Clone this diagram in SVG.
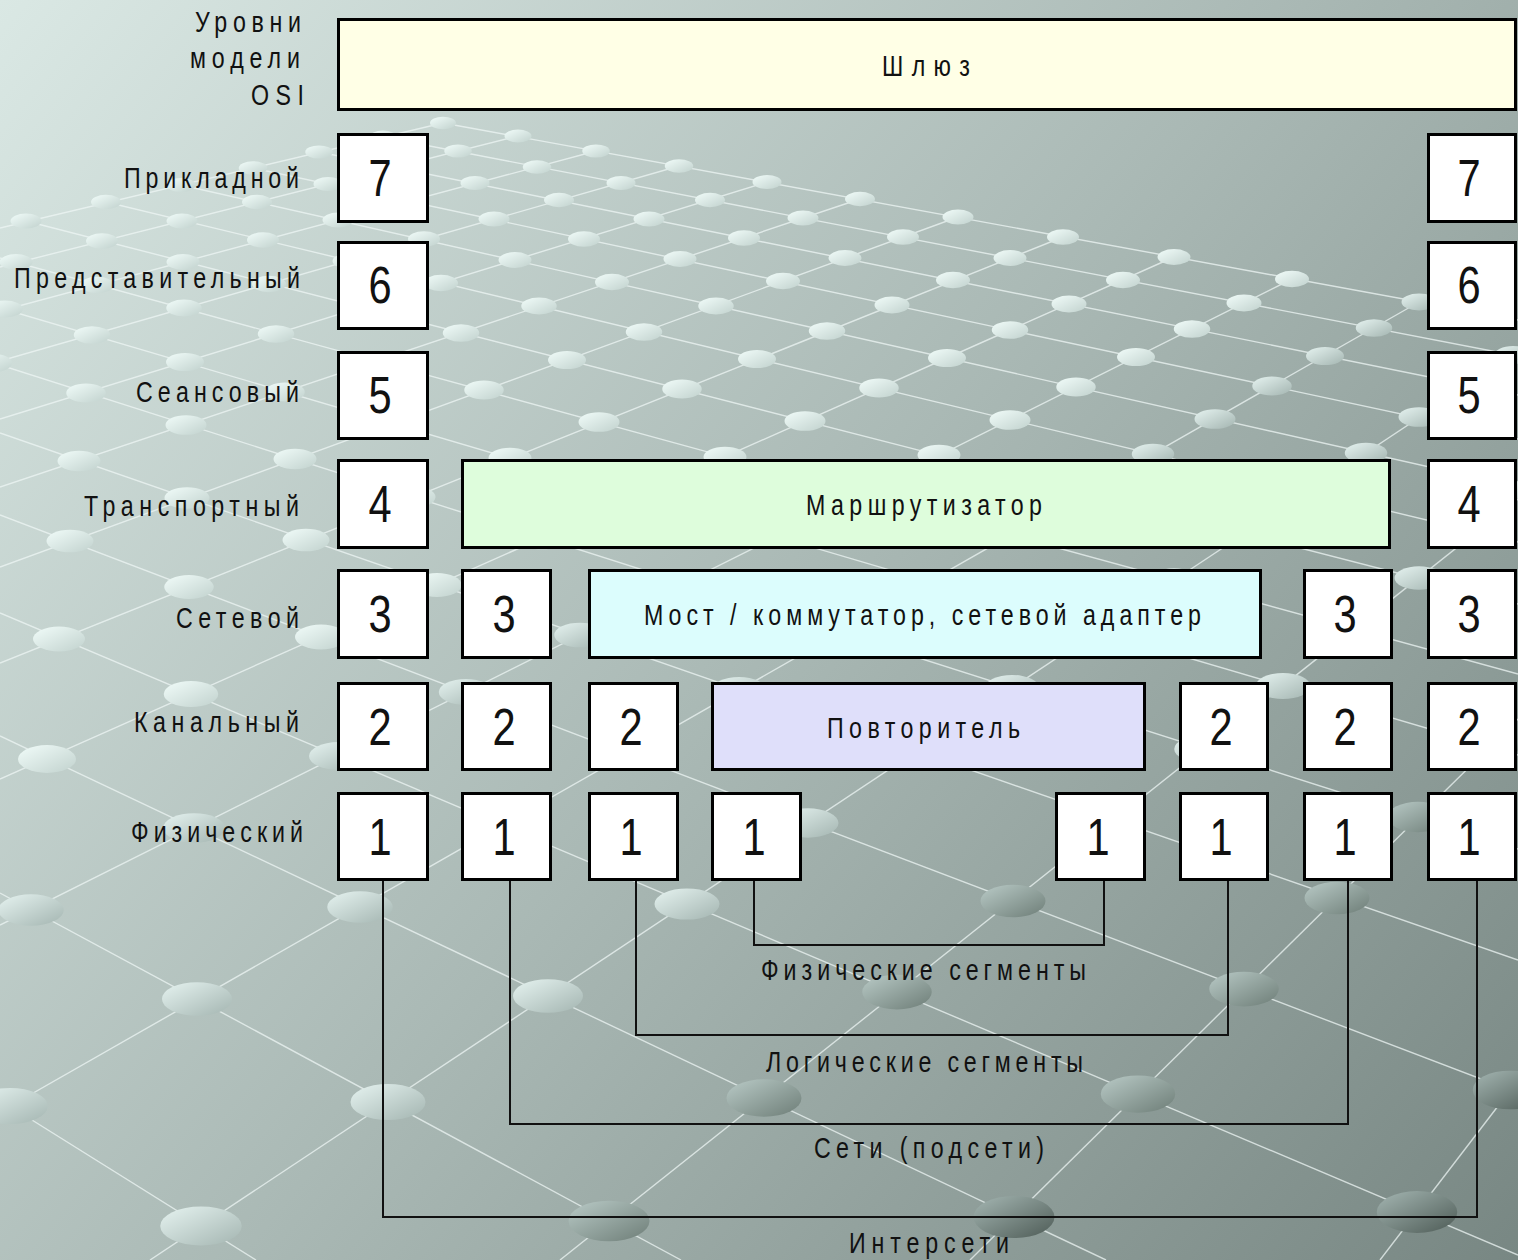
<svg xmlns="http://www.w3.org/2000/svg" width="1518" height="1260" viewBox="0 0 1518 1260">
  <defs>
    <linearGradient id="bg" gradientUnits="userSpaceOnUse" x1="0" y1="0" x2="1518" y2="1260">
      <stop offset="0" stop-color="#DAE8E4"/>
      <stop offset="0.5" stop-color="#AAB9B5"/>
      <stop offset="1" stop-color="#788783"/>
    </linearGradient>
    <linearGradient id="g1" x1="0.15" y1="0.15" x2="0.9" y2="0.9">
      <stop offset="0" stop-color="#EAF6F3"/>
      <stop offset="1" stop-color="#C6D6D2"/>
    </linearGradient>
    <linearGradient id="g2" x1="0.15" y1="0.15" x2="0.9" y2="0.9">
      <stop offset="0" stop-color="#DCEAE7"/>
      <stop offset="1" stop-color="#AABBB7"/>
    </linearGradient>
    <linearGradient id="g3" x1="0.15" y1="0.15" x2="0.9" y2="0.9">
      <stop offset="0" stop-color="#AEBFBB"/>
      <stop offset="1" stop-color="#75857F"/>
    </linearGradient>
    <linearGradient id="g4" x1="0.15" y1="0.15" x2="0.9" y2="0.9">
      <stop offset="0" stop-color="#98A9A5"/>
      <stop offset="1" stop-color="#56645F"/>
    </linearGradient>
    <ellipse id="e1" rx="25" ry="12" fill="url(#g1)"/>
    <ellipse id="e2" rx="25" ry="12" fill="url(#g2)"/>
    <ellipse id="e3" rx="25" ry="12.5" fill="url(#g3)"/>
    <ellipse id="e4" rx="25" ry="13" fill="url(#g4)"/>
  </defs>
  <style>
    .grid line { stroke: #EEF6F4; stroke-width: 1.4; stroke-opacity: 0.75; }
    .box { stroke: #000; stroke-width: 3; }
    .cell { fill: #FFFFFF; }
    .t { font-family: "Liberation Sans", Arial, sans-serif; font-size: 29px; fill: #111; }
    .d { font-family: "Liberation Sans", Arial, sans-serif; font-size: 52px; fill: #111; text-anchor: middle; }
    .wire { fill: none; stroke: #111; stroke-width: 2; }
  </style>

  <!-- backdrop: perspective grid of rods and beads -->
  <rect width="1518" height="1260" fill="url(#bg)"/>
  <g class="grid">
    <line x1="443" y1="123" x2="0" y2="228"/>
    <line x1="518" y1="136" x2="0" y2="267"/>
    <line x1="596" y1="151" x2="0" y2="311"/>
    <line x1="679" y1="166" x2="0" y2="361"/>
    <line x1="767" y1="182" x2="0" y2="419"/>
    <line x1="860" y1="199" x2="0" y2="487"/>
    <line x1="958" y1="217" x2="0" y2="567"/>
    <line x1="1063" y1="237" x2="0" y2="663"/>
    <line x1="1174" y1="257" x2="0" y2="779"/>
    <line x1="1292" y1="279" x2="0" y2="925"/>
    <line x1="1419" y1="302" x2="0" y2="1112"/>
    <line x1="1518" y1="352" x2="150" y2="1260"/>
    <line x1="1518" y1="499" x2="560" y2="1260"/>
    <line x1="1518" y1="719" x2="970" y2="1260"/>
    <line x1="1518" y1="1080" x2="1380" y2="1260"/>
    <line x1="443" y1="123" x2="1518" y2="320"/>
    <line x1="383" y1="137" x2="1518" y2="356"/>
    <line x1="319" y1="152" x2="1518" y2="395"/>
    <line x1="253" y1="168" x2="1518" y2="439"/>
    <line x1="181" y1="185" x2="1518" y2="487"/>
    <line x1="106" y1="202" x2="1518" y2="542"/>
    <line x1="26" y1="221" x2="1518" y2="604"/>
    <line x1="0" y1="258" x2="1518" y2="674"/>
    <line x1="0" y1="308" x2="1518" y2="755"/>
    <line x1="0" y1="365" x2="1518" y2="849"/>
    <line x1="0" y1="433" x2="1518" y2="960"/>
    <line x1="0" y1="515" x2="1518" y2="1093"/>
    <line x1="0" y1="613" x2="1518" y2="1255"/>
    <line x1="0" y1="736" x2="1106" y2="1260"/>
    <line x1="0" y1="893" x2="681" y2="1260"/>
    <line x1="0" y1="1100" x2="256" y2="1260"/>
  </g>
  <g class="beads">
    <use href="#e1" transform="translate(443 123) scale(.52)"/>
    <use href="#e1" transform="translate(518 136) scale(.54)"/>
    <use href="#e1" transform="translate(596 151) scale(.55)"/>
    <use href="#e1" transform="translate(679 166) scale(.57)"/>
    <use href="#e1" transform="translate(767 182) scale(.58)"/>
    <use href="#e1" transform="translate(860 199) scale(.60)"/>
    <use href="#e1" transform="translate(958 217) scale(.62)"/>
    <use href="#e1" transform="translate(1063 237) scale(.64)"/>
    <use href="#e1" transform="translate(1174 257) scale(.66)"/>
    <use href="#e1" transform="translate(1292 279) scale(.68)"/>
    <use href="#e2" transform="translate(1419 302) scale(.70)"/>

    <use href="#e1" transform="translate(383 137) scale(.54)"/>
    <use href="#e1" transform="translate(458 151) scale(.55)"/>
    <use href="#e1" transform="translate(537 167) scale(.57)"/>
    <use href="#e1" transform="translate(621 183) scale(.58)"/>
    <use href="#e1" transform="translate(710 200) scale(.60)"/>
    <use href="#e1" transform="translate(803 218) scale(.62)"/>
    <use href="#e1" transform="translate(903 237) scale(.64)"/>
    <use href="#e1" transform="translate(1010 258) scale(.66)"/>
    <use href="#e1" transform="translate(1123 280) scale(.68)"/>
    <use href="#e1" transform="translate(1244 303) scale(.70)"/>
    <use href="#e2" transform="translate(1374 328) scale(.73)"/>
    <use href="#e2" transform="translate(1513 355) scale(.75)"/>

    <use href="#e1" transform="translate(319 152) scale(.55)"/>
    <use href="#e1" transform="translate(395 167) scale(.57)"/>
    <use href="#e1" transform="translate(475 183) scale(.58)"/>
    <use href="#e1" transform="translate(559 200) scale(.60)"/>
    <use href="#e1" transform="translate(649 219) scale(.62)"/>
    <use href="#e1" transform="translate(744 238) scale(.64)"/>
    <use href="#e1" transform="translate(845 258) scale(.66)"/>
    <use href="#e1" transform="translate(953 280) scale(.68)"/>
    <use href="#e1" transform="translate(1069 304) scale(.70)"/>
    <use href="#e1" transform="translate(1192 329) scale(.73)"/>
    <use href="#e2" transform="translate(1325 356) scale(.76)"/>
    <use href="#e2" transform="translate(1468 385) scale(.78)"/>

    <use href="#e1" transform="translate(253 168) scale(.57)"/>
    <use href="#e1" transform="translate(328 184) scale(.58)"/>
    <use href="#e1" transform="translate(409 201) scale(.60)"/>
    <use href="#e1" transform="translate(494 219) scale(.62)"/>
    <use href="#e1" transform="translate(584 239) scale(.64)"/>
    <use href="#e1" transform="translate(680 259) scale(.66)"/>
    <use href="#e1" transform="translate(783 281) scale(.68)"/>
    <use href="#e1" transform="translate(892 305) scale(.70)"/>
    <use href="#e1" transform="translate(1010 330) scale(.73)"/>
    <use href="#e1" transform="translate(1136 357) scale(.76)"/>
    <use href="#e2" transform="translate(1272 386) scale(.79)"/>
    <use href="#e2" transform="translate(1419 417) scale(.82)"/>

    <use href="#e1" transform="translate(181 185) scale(.58)"/>
    <use href="#e1" transform="translate(257 202) scale(.60)"/>
    <use href="#e1" transform="translate(338 220) scale(.62)"/>
    <use href="#e1" transform="translate(424 239) scale(.64)"/>
    <use href="#e1" transform="translate(515 260) scale(.66)"/>
    <use href="#e1" transform="translate(612 282) scale(.68)"/>
    <use href="#e1" transform="translate(716 306) scale(.71)"/>
    <use href="#e1" transform="translate(827 331) scale(.73)"/>
    <use href="#e1" transform="translate(947 358) scale(.76)"/>
    <use href="#e1" transform="translate(1076 387) scale(.79)"/>
    <use href="#e2" transform="translate(1215 419) scale(.82)"/>
    <use href="#e2" transform="translate(1366 453) scale(.85)"/>
    <use href="#e2" transform="translate(1530 490) scale(.89)"/>

    <use href="#e1" transform="translate(106 202) scale(.60)"/>
    <use href="#e1" transform="translate(182 221) scale(.62)"/>
    <use href="#e1" transform="translate(263 240) scale(.64)"/>
    <use href="#e1" transform="translate(349 261) scale(.66)"/>
    <use href="#e1" transform="translate(441 283) scale(.68)"/>
    <use href="#e1" transform="translate(539 306) scale(.71)"/>
    <use href="#e1" transform="translate(644 332) scale(.73)"/>
    <use href="#e1" transform="translate(757 359) scale(.76)"/>
    <use href="#e1" transform="translate(879 388) scale(.79)"/>
    <use href="#e1" transform="translate(1010 420) scale(.82)"/>
    <use href="#e2" transform="translate(1153 454) scale(.85)"/>
    <use href="#e2" transform="translate(1308 491) scale(.89)"/>
    <use href="#e2" transform="translate(1477 532) scale(.93)"/>

    <use href="#e1" transform="translate(26 221) scale(.62)"/>
    <use href="#e1" transform="translate(102 241) scale(.64)"/>
    <use href="#e1" transform="translate(183 262) scale(.66)"/>
    <use href="#e1" transform="translate(269 284) scale(.68)"/>
    <use href="#e1" transform="translate(362 307) scale(.71)"/>
    <use href="#e1" transform="translate(461 333) scale(.73)"/>
    <use href="#e1" transform="translate(567 360) scale(.76)"/>
    <use href="#e1" transform="translate(682 389) scale(.79)"/>
    <use href="#e1" transform="translate(805 421) scale(.82)"/>
    <use href="#e1" transform="translate(939 455) scale(.86)"/>
    <use href="#e2" transform="translate(1085 493) scale(.89)"/>
    <use href="#e2" transform="translate(1244 533) scale(.93)"/>
    <use href="#e2" transform="translate(1419 578) scale(.98)"/>

    <use href="#e1" transform="translate(16 262) scale(.66)"/>
    <use href="#e1" transform="translate(97 285) scale(.68)"/>
    <use href="#e1" transform="translate(184 308) scale(.71)"/>
    <use href="#e1" transform="translate(276 334) scale(.73)"/>
    <use href="#e1" transform="translate(376 361) scale(.76)"/>
    <use href="#e1" transform="translate(484 390) scale(.79)"/>
    <use href="#e1" transform="translate(599 422) scale(.82)"/>
    <use href="#e1" transform="translate(725 457) scale(.86)"/>
    <use href="#e1" transform="translate(862 494) scale(.89)"/>
    <use href="#e2" transform="translate(1011 535) scale(.94)"/>
    <use href="#e2" transform="translate(1174 580) scale(.98)"/>
    <use href="#e2" transform="translate(1354 629) scale(1.03)"/>

    <use href="#e1" transform="translate(5 309) scale(.71)"/>
    <use href="#e1" transform="translate(92 335) scale(.73)"/>
    <use href="#e1" transform="translate(185 362) scale(.76)"/>
    <use href="#e1" transform="translate(285 392) scale(.79)"/>
    <use href="#e1" transform="translate(393 423) scale(.82)"/>
    <use href="#e1" transform="translate(510 458) scale(.86)"/>
    <use href="#e1" transform="translate(638 496) scale(.90)"/>
    <use href="#e2" transform="translate(777 537) scale(.94)"/>
    <use href="#e2" transform="translate(929 582) scale(.98)"/>
    <use href="#e2" transform="translate(1097 631) scale(1.03)"/>
    <use href="#e2" transform="translate(1283 686) scale(1.09)"/>
    <use href="#e3" transform="translate(1490 747) scale(1.15)"/>

    <use href="#e1" transform="translate(-7 363) scale(.76)"/>
    <use href="#e1" transform="translate(86 393) scale(.79)"/>
    <use href="#e1" transform="translate(186 425) scale(.82)"/>
    <use href="#e1" transform="translate(295 459) scale(.86)"/>
    <use href="#e1" transform="translate(413 497) scale(.90)"/>
    <use href="#e1" transform="translate(542 538) scale(.94)"/>
    <use href="#e2" transform="translate(683 583) scale(.98)"/>
    <use href="#e2" transform="translate(839 633) scale(1.03)"/>
    <use href="#e2" transform="translate(1012 688) scale(1.09)"/>
    <use href="#e2" transform="translate(1203 749) scale(1.15)"/>
    <use href="#e3" transform="translate(1418 817) scale(1.22)"/>

    <use href="#e1" transform="translate(-21 426) scale(.83)"/>
    <use href="#e1" transform="translate(79 461) scale(.86)"/>
    <use href="#e1" transform="translate(187 498) scale(.90)"/>
    <use href="#e1" transform="translate(306 540) scale(.94)"/>
    <use href="#e1" transform="translate(437 585) scale(.99)"/>
    <use href="#e2" transform="translate(580 635) scale(1.03)"/>
    <use href="#e2" transform="translate(739 690) scale(1.09)"/>
    <use href="#e2" transform="translate(916 751) scale(1.15)"/>
    <use href="#e3" transform="translate(1114 820) scale(1.22)"/>
    <use href="#e3" transform="translate(1337 898) scale(1.30)"/>

    <use href="#e1" transform="translate(-39 500) scale(.90)"/>
    <use href="#e1" transform="translate(70 541) scale(.94)"/>
    <use href="#e1" transform="translate(189 587) scale(.99)"/>
    <use href="#e1" transform="translate(321 637) scale(1.04)"/>
    <use href="#e2" transform="translate(466 692) scale(1.09)"/>
    <use href="#e2" transform="translate(627 754) scale(1.15)"/>
    <use href="#e2" transform="translate(808 823) scale(1.22)"/>
    <use href="#e3" transform="translate(1013 901) scale(1.30)"/>
    <use href="#e3" transform="translate(1244 989) scale(1.39)"/>
    <use href="#e4" transform="translate(1510 1090) scale(1.49)"/>

    <use href="#e1" transform="translate(59 639) scale(1.04)"/>
    <use href="#e1" transform="translate(191 694) scale(1.09)"/>
    <use href="#e2" transform="translate(338 756) scale(1.16)"/>
    <use href="#e2" transform="translate(502 825) scale(1.23)"/>
    <use href="#e2" transform="translate(687 904) scale(1.30)"/>
    <use href="#e3" transform="translate(897 992) scale(1.39)"/>
    <use href="#e3" transform="translate(1138 1094) scale(1.49)"/>
    <use href="#e4" transform="translate(1417 1212) scale(1.61)"/>

    <use href="#e1" transform="translate(47 759) scale(1.16)"/>
    <use href="#e2" transform="translate(194 828) scale(1.23)"/>
    <use href="#e2" transform="translate(360 907) scale(1.31)"/>
    <use href="#e2" transform="translate(548 996) scale(1.40)"/>
    <use href="#e3" transform="translate(764 1098) scale(1.50)"/>
    <use href="#e4" transform="translate(1014 1217) scale(1.62)"/>

    <use href="#e2" transform="translate(31 910) scale(1.31)"/>
    <use href="#e2" transform="translate(197 999) scale(1.40)"/>
    <use href="#e2" transform="translate(388 1102) scale(1.50)"/>
    <use href="#e3" transform="translate(609 1221) scale(1.62)"/>

    <use href="#e2" transform="translate(10 1106) scale(1.51)"/>
    <use href="#e2" transform="translate(201 1226) scale(1.63)"/>
  </g>

  <!-- layer names on the left (condensed lettering: x is divided by the 0.8 squeeze) -->
  <g id="layer-names" class="t" transform="scale(0.8 1)">
    <text x="243.75" y="32" textLength="132.5" lengthAdjust="spacing">Уровни</text>
    <text x="237.5" y="68" textLength="137.5" lengthAdjust="spacing">модели</text>
    <text x="313.75" y="105" textLength="66.25" lengthAdjust="spacing">OSI</text>
    <text x="155" y="188" textLength="218.75" lengthAdjust="spacing">Прикладной</text>
    <text x="17.5" y="288" textLength="357.5" lengthAdjust="spacing">Представительный</text>
    <text x="170" y="402" textLength="203.75" lengthAdjust="spacing">Сеансовый</text>
    <text x="105" y="516" textLength="268.75" lengthAdjust="spacing">Транспортный</text>
    <text x="220" y="628" textLength="153.75" lengthAdjust="spacing">Сетевой</text>
    <text x="167.5" y="732" textLength="206.25" lengthAdjust="spacing">Канальный</text>
    <text x="163.75" y="842" textLength="215" lengthAdjust="spacing">Физический</text>
  </g>

  <!-- connectors between physical ports -->
  <g id="connectors" class="wire">
    <path d="M754 881 V945 H1104 V881"/>
    <path d="M636 881 V1035 H1228 V881"/>
    <path d="M510 881 V1124 H1348 V881"/>
    <path d="M383 881 V1217 H1477 V881"/>
  </g>

  <!-- devices spanning several layers -->
  <g id="gateway">
    <rect class="box" x="338.5" y="19.5" width="1177" height="90" fill="#FFFFE6"/>
    <text class="t" transform="scale(0.8 1)" x="1102.5" y="76" textLength="110" lengthAdjust="spacing">Шлюз</text>
  </g>
  <g id="router">
    <rect class="box" x="462.5" y="460.5" width="927" height="87" fill="#DEFDDC"/>
    <text class="t" transform="scale(0.8 1)" x="1007.5" y="515" textLength="295" lengthAdjust="spacing">Маршрутизатор</text>
  </g>
  <g id="bridge">
    <rect class="box" x="589.5" y="570.5" width="671" height="87" fill="#DCFDFD"/>
    <text class="t" transform="scale(0.8 1)" x="805" y="625" textLength="696.25" lengthAdjust="spacing">Мост / коммутатор, сетевой адаптер</text>
  </g>
  <g id="repeater">
    <rect class="box" x="712.5" y="683.5" width="432" height="86" fill="#DFDFFA"/>
    <text class="t" transform="scale(0.8 1)" x="1033.75" y="738" textLength="241.25" lengthAdjust="spacing">Повторитель</text>
  </g>

  <!-- end-node stack, left -->
  <g id="host-a">
    <rect class="box cell" x="338.5" y="134.5" width="89" height="87"/>
    <rect class="box cell" x="338.5" y="242.5" width="89" height="86"/>
    <rect class="box cell" x="338.5" y="352.5" width="89" height="86"/>
    <rect class="box cell" x="338.5" y="460.5" width="89" height="87"/>
    <rect class="box cell" x="338.5" y="570.5" width="89" height="87"/>
    <rect class="box cell" x="338.5" y="683.5" width="89" height="86"/>
    <rect class="box cell" x="338.5" y="793.5" width="89" height="86"/>
    <g class="d" transform="scale(0.8 1)">
      <text x="475" y="196">7</text>
      <text x="475" y="303">6</text>
      <text x="475" y="413">5</text>
      <text x="475" y="522">4</text>
      <text x="475" y="632">3</text>
      <text x="475" y="745">2</text>
      <text x="475" y="855">1</text>
    </g>
  </g>

  <!-- router ports -->
  <g id="router-port-a">
    <rect class="box cell" x="462.5" y="570.5" width="88" height="87"/>
    <rect class="box cell" x="462.5" y="683.5" width="88" height="86"/>
    <rect class="box cell" x="462.5" y="793.5" width="88" height="86"/>
    <g class="d" transform="scale(0.8 1)">
      <text x="630" y="632">3</text>
      <text x="630" y="745">2</text>
      <text x="630" y="855">1</text>
    </g>
  </g>
  <g id="router-port-b">
    <rect class="box cell" x="1304.5" y="570.5" width="87" height="87"/>
    <rect class="box cell" x="1304.5" y="683.5" width="87" height="86"/>
    <rect class="box cell" x="1304.5" y="793.5" width="87" height="86"/>
    <g class="d" transform="scale(0.8 1)">
      <text x="1681.25" y="632">3</text>
      <text x="1681.25" y="745">2</text>
      <text x="1681.25" y="855">1</text>
    </g>
  </g>

  <!-- bridge ports -->
  <g id="bridge-port-a">
    <rect class="box cell" x="589.5" y="683.5" width="88" height="86"/>
    <rect class="box cell" x="589.5" y="793.5" width="88" height="86"/>
    <g class="d" transform="scale(0.8 1)">
      <text x="788.75" y="745">2</text>
      <text x="788.75" y="855">1</text>
    </g>
  </g>
  <g id="bridge-port-b">
    <rect class="box cell" x="1180.5" y="683.5" width="87" height="86"/>
    <rect class="box cell" x="1180.5" y="793.5" width="87" height="86"/>
    <g class="d" transform="scale(0.8 1)">
      <text x="1526.25" y="745">2</text>
      <text x="1526.25" y="855">1</text>
    </g>
  </g>

  <!-- repeater ports -->
  <g id="repeater-port-a">
    <rect class="box cell" x="712.5" y="793.5" width="88" height="86"/>
    <text class="d" transform="scale(0.8 1)" x="942.5" y="855">1</text>
  </g>
  <g id="repeater-port-b">
    <rect class="box cell" x="1056.5" y="793.5" width="88" height="86"/>
    <text class="d" transform="scale(0.8 1)" x="1372.5" y="855">1</text>
  </g>

  <!-- end-node stack, right -->
  <g id="host-b">
    <rect class="box cell" x="1428.5" y="134.5" width="87" height="87"/>
    <rect class="box cell" x="1428.5" y="242.5" width="87" height="86"/>
    <rect class="box cell" x="1428.5" y="352.5" width="87" height="86"/>
    <rect class="box cell" x="1428.5" y="460.5" width="87" height="87"/>
    <rect class="box cell" x="1428.5" y="570.5" width="87" height="87"/>
    <rect class="box cell" x="1428.5" y="683.5" width="87" height="86"/>
    <rect class="box cell" x="1428.5" y="793.5" width="87" height="86"/>
    <g class="d" transform="scale(0.8 1)">
      <text x="1836.25" y="196">7</text>
      <text x="1836.25" y="303">6</text>
      <text x="1836.25" y="413">5</text>
      <text x="1836.25" y="522">4</text>
      <text x="1836.25" y="632">3</text>
      <text x="1836.25" y="745">2</text>
      <text x="1836.25" y="855">1</text>
    </g>
  </g>

  <!-- segment captions -->
  <g id="segment-names" class="t" transform="scale(0.8 1)">
    <text x="951.25" y="980" textLength="406.25" lengthAdjust="spacing">Физические сегменты</text>
    <text x="957.5" y="1072" textLength="396.25" lengthAdjust="spacing">Логические сегменты</text>
    <text x="1017.5" y="1158" textLength="287.5" lengthAdjust="spacing">Сети (подсети)</text>
    <text x="1061.25" y="1253" textLength="200" lengthAdjust="spacing">Интерсети</text>
  </g>
</svg>
